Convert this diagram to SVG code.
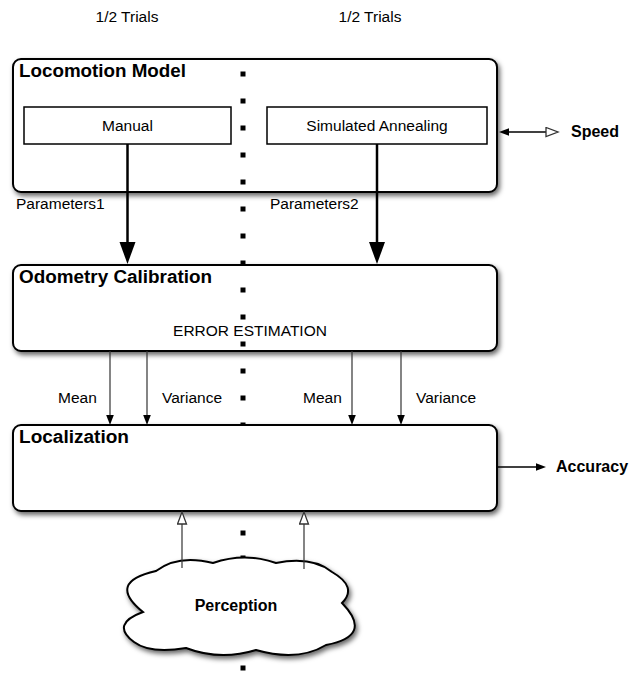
<svg xmlns="http://www.w3.org/2000/svg" width="630" height="674" viewBox="0 0 630 674">
<style>
  text { font-family: "Liberation Sans", Arial, Helvetica, sans-serif; fill: #000; }
  .lbl { font-size: 15.5px; }
  .title { font-size: 18px; font-weight: bold; }
  .bold { font-size: 16px; font-weight: bold; }
  .box { fill: #fff; stroke: #000; stroke-width: 2; filter: url(#shadow); }
  .inner { fill: #fff; stroke: #000; stroke-width: 1.5; }
  .dot { fill: #000; }
  .thick { stroke: #000; stroke-width: 2.5; fill: none; marker-end: url(#bigHead); }
  .thin { stroke: #333; stroke-width: 1.2; fill: none; marker-end: url(#smallHead); }
  .hollow { stroke: #333; stroke-width: 1.2; fill: none; marker-end: url(#openHead); }
  .out { stroke: #000; stroke-width: 1.5; fill: none; }
</style>
<defs>
  <filter id="shadow" x="-10%" y="-10%" width="125%" height="140%">
    <feDropShadow dx="2" dy="3" stdDeviation="2.5" flood-color="#000" flood-opacity="0.6"/>
  </filter>
  <marker id="bigHead" markerUnits="userSpaceOnUse" markerWidth="24" markerHeight="18" refX="1" refY="8" orient="auto">
    <path d="M0,0 L22,8 L0,16 Z" fill="#000"/>
  </marker>
  <marker id="smallHead" markerUnits="userSpaceOnUse" markerWidth="12" markerHeight="9" refX="1" refY="3.8" orient="auto-start-reverse">
    <path d="M0,0 L10,3.8 L0,7.6 Z" fill="#000"/>
  </marker>
  <marker id="openHead" markerUnits="userSpaceOnUse" markerWidth="15" markerHeight="13" refX="1" refY="5.5" orient="auto">
    <path d="M1,1 L13,5.5 L1,10 Z" fill="#fff" stroke="#333" stroke-width="1.3"/>
  </marker>
</defs>

<rect width="630" height="674" fill="#fff"/>

<text class="lbl" x="127" y="22" text-anchor="middle">1/2 Trials</text>
<text class="lbl" x="370" y="22" text-anchor="middle">1/2 Trials</text>

<g id="locomotion-model">
  <rect class="box" x="13" y="59" width="484" height="133" rx="8"/>
  <text class="title" x="19" y="77" textLength="167" lengthAdjust="spacingAndGlyphs">Locomotion Model</text>
</g>
<g id="manual">
  <rect class="inner" x="24" y="107" width="207" height="37"/>
  <text class="lbl" x="127.5" y="131" text-anchor="middle">Manual</text>
</g>
<g id="simulated-annealing">
  <rect class="inner" x="267" y="107" width="220" height="37"/>
  <text class="lbl" x="377" y="131" text-anchor="middle">Simulated Annealing</text>
</g>

<g id="odometry-calibration">
  <rect class="box" x="13" y="265" width="484" height="86" rx="8"/>
  <text class="title" x="19" y="283" textLength="193" lengthAdjust="spacingAndGlyphs">Odometry Calibration</text>
  <text class="lbl" x="250" y="336" text-anchor="middle">ERROR ESTIMATION</text>
</g>

<g id="divider">
  <rect class="dot" x="240.5" y="71.5" width="5" height="5"/>
  <rect class="dot" x="240.5" y="98.5" width="5" height="5"/>
  <rect class="dot" x="240.5" y="125.5" width="5" height="5"/>
  <rect class="dot" x="240.5" y="152.5" width="5" height="5"/>
  <rect class="dot" x="240.5" y="179.5" width="5" height="5"/>
  <rect class="dot" x="240.5" y="206.5" width="5" height="5"/>
  <rect class="dot" x="240.5" y="233.5" width="5" height="5"/>
  <rect class="dot" x="240.5" y="260.5" width="5" height="5"/>
  <rect class="dot" x="240.5" y="287.5" width="5" height="5"/>
  <rect class="dot" x="240.5" y="314.5" width="5" height="5"/>
  <rect class="dot" x="240.5" y="341.5" width="5" height="5"/>
  <rect class="dot" x="240.5" y="368.5" width="5" height="5"/>
  <rect class="dot" x="240.5" y="395.5" width="5" height="5"/>
  <rect class="dot" x="240.5" y="422.5" width="5" height="5"/>
  <rect class="dot" x="240.5" y="530.5" width="5" height="5"/>
  <rect class="dot" x="240.5" y="555.5" width="5" height="5"/>
  <rect class="dot" x="240.5" y="665.5" width="5" height="5"/>
</g>

<g id="localization">
  <rect class="box" x="13" y="425" width="484" height="86" rx="8"/>
  <text class="title" x="19" y="443" textLength="110" lengthAdjust="spacingAndGlyphs">Localization</text>
</g>

<g id="perception">
  <path filter="url(#shadow)" fill="#fff" stroke="#000" stroke-width="2"
        d="M143,612 Q110,624 134,642 Q150,654 186,648 Q220,661 256,650 Q298,662 326,645 Q374,636 342,603 Q358,587 332,572 Q312,556 276,563 Q245,552 213,563 Q178,554 156,571 Q106,582 143,612 Z"/>
  <text class="bold" x="236" y="611" text-anchor="middle">Perception</text>
</g>

<g id="speed-label"><text class="bold" x="571" y="137">Speed</text></g>
<g id="accuracy-label"><text class="bold" x="556" y="472">Accuracy</text></g>

<g id="connectors">
  <line class="thick" x1="127.5" y1="144" x2="127.5" y2="243"/>
  <line class="thick" x1="377" y1="144" x2="377" y2="243"/>
  <text class="lbl" x="16" y="209">Parameters1</text>
  <text class="lbl" x="270" y="209">Parameters2</text>

  <line class="thin" x1="110" y1="351" x2="110" y2="416"/>
  <line class="thin" x1="147" y1="351" x2="147" y2="416"/>
  <line class="thin" x1="352" y1="351" x2="352" y2="416"/>
  <line class="thin" x1="401" y1="351" x2="401" y2="416"/>
  <text class="lbl" x="58" y="403">Mean</text>
  <text class="lbl" x="162" y="403">Variance</text>
  <text class="lbl" x="303" y="403">Mean</text>
  <text class="lbl" x="416" y="403">Variance</text>

  <line class="hollow" x1="182" y1="568" x2="182" y2="524"/>
  <line class="hollow" x1="304" y1="569" x2="304" y2="524"/>

  <line class="out" x1="508" y1="132" x2="546" y2="132" marker-start="url(#smallHead)" marker-end="url(#openHead)"/>
  <line class="out" x1="498" y1="467" x2="537" y2="467" marker-end="url(#smallHead)"/>
</g>
</svg>
